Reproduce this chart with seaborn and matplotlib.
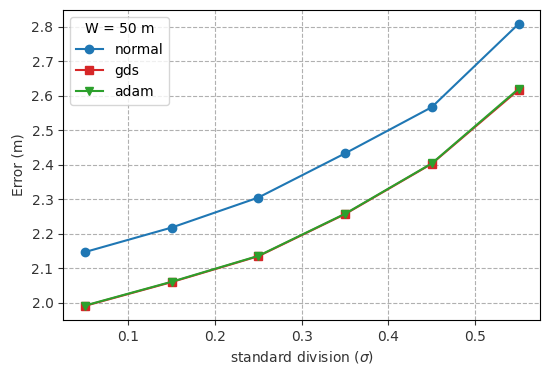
import matplotlib
matplotlib.use("Agg")
import matplotlib.pyplot as plt
import seaborn as sns
import pandas as pd

sigma = [0.05, 0.15, 0.25, 0.35, 0.45, 0.55]
normal = [2.147, 2.218, 2.305, 2.433, 2.567, 2.808]
gds = [1.991, 2.060, 2.135, 2.257, 2.403, 2.617]
adam = [1.992, 2.061, 2.136, 2.258, 2.404, 2.620]

df = pd.DataFrame({"sigma": sigma * 3,
                   "err": normal + gds + adam,
                   "method": ["normal"] * 6 + ["gds"] * 6 + ["adam"] * 6})

fig = plt.figure(figsize=(5.44, 3.67), dpi=100)
ax = fig.add_axes([0.116, 0.128, 0.877, 0.845])
palette = {"normal": "#1f77b4", "gds": "#d62728", "adam": "#2ca02c"}
markers = {"normal": "o", "gds": "s", "adam": "v"}
for m in ["normal", "gds", "adam"]:
    sns.lineplot(data=df[df.method == m], x="sigma", y="err", ax=ax,
                 color=palette[m], marker=markers[m], markersize=6,
                 markeredgewidth=1, markeredgecolor=palette[m],
                 label=m, linewidth=1.5)
ax.grid(True, linestyle="--", color="#b0b0b0", linewidth=0.8)
ax.set_xlabel(r"standard division ($\sigma$)", color="#333333")
ax.set_ylabel("Error (m)", color="#333333")
ax.tick_params(colors="#333333", labelcolor="#333333")
ax.set_yticks([2.0, 2.1, 2.2, 2.3, 2.4, 2.5, 2.6, 2.7, 2.8])
ax.set_xticks([0.1, 0.2, 0.3, 0.4, 0.5])
leg = ax.legend(title="W = 50 m", loc="upper left")
fig.savefig("out.png", dpi=100)
